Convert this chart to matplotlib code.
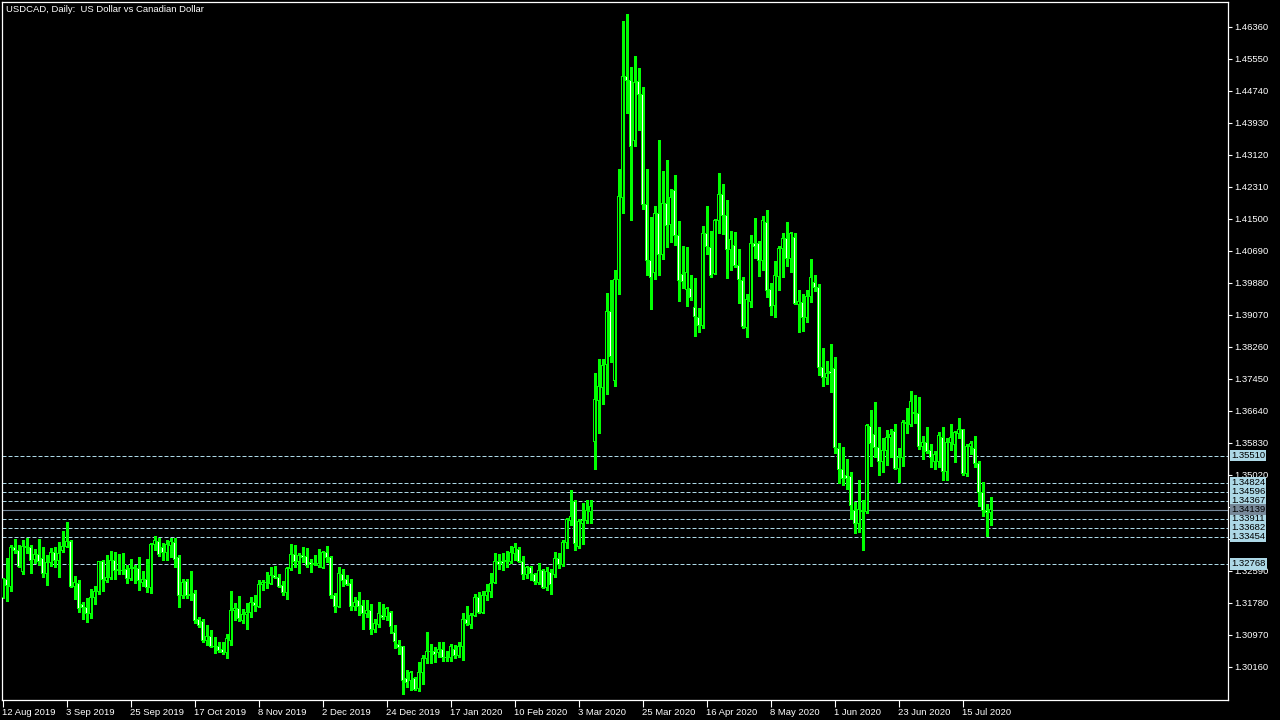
import numpy as np
import matplotlib
matplotlib.use("Agg")
import matplotlib.pyplot as plt
from matplotlib import transforms

plt.rcParams['font.family'] = ['Liberation Sans', 'DejaVu Sans']

# ---------------------------------------------------------------------------
# data (USDCAD daily, 12 Aug 2019 .. Jul 2020)

title = "USDCAD, Daily:  US Dollar vs Canadian Dollar"

date_labels = ["12 Aug 2019", "3 Sep 2019", "25 Sep 2019", "17 Oct 2019",
               "8 Nov 2019", "2 Dec 2019", "24 Dec 2019", "17 Jan 2020",
               "10 Feb 2020", "3 Mar 2020", "25 Mar 2020", "16 Apr 2020",
               "8 May 2020", "1 Jun 2020", "23 Jun 2020", "15 Jul 2020"]

opens = [
    1.3193, 1.3238, 1.3219, 1.3318, 1.3310, 1.3257, 1.3322, 1.3319, 1.3287, 1.3301,
    1.3291, 1.3253, 1.3280, 1.3306, 1.3285, 1.3310, 1.3320, 1.3334, 1.3219, 1.3228,
    1.3175, 1.3167, 1.3151, 1.3191, 1.3207, 1.3284, 1.3236, 1.3242, 1.3285, 1.3263,
    1.3261, 1.3263, 1.3240, 1.3265, 1.3266, 1.3229, 1.3238, 1.3217, 1.3325, 1.3333,
    1.3319, 1.3305, 1.3324, 1.3332, 1.3294, 1.3197, 1.3232, 1.3200, 1.3201, 1.3135,
    1.3132, 1.3084, 1.3094, 1.3069, 1.3069, 1.3059, 1.3052, 1.3084, 1.3158, 1.3163,
    1.3133, 1.3148, 1.3155, 1.3180, 1.3170, 1.3225, 1.3230, 1.3228, 1.3248, 1.3243,
    1.3221, 1.3204, 1.3266, 1.3301, 1.3282, 1.3297, 1.3295, 1.3280, 1.3277, 1.3272,
    1.3268, 1.3306, 1.3294, 1.3198, 1.3170, 1.3251, 1.3238, 1.3228, 1.3170, 1.3183,
    1.3172, 1.3152, 1.3158, 1.3110, 1.3123, 1.3147, 1.3143, 1.3153, 1.3104, 1.3073,
    1.3068, 1.2986, 1.2981, 1.2986, 1.2961, 1.3002, 1.3038, 1.3056, 1.3054, 1.3052,
    1.3059, 1.3040, 1.3041, 1.3059, 1.3044, 1.3067, 1.3135, 1.3123, 1.3147, 1.3192,
    1.3153, 1.3196, 1.3207, 1.3229, 1.3283, 1.3284, 1.3282, 1.3283, 1.3303, 1.3313,
    1.3284, 1.3249, 1.3268, 1.3249, 1.3230, 1.3260, 1.3218, 1.3256, 1.3250, 1.3291,
    1.3275, 1.3330, 1.3388, 1.3434, 1.3322, 1.3380, 1.3386, 1.3410, 1.3586, 1.3691,
    1.3724, 1.3782, 1.3917, 1.3741, 1.3997, 1.4204, 1.4511, 1.4501, 1.4349, 1.4498,
    1.4465, 1.4186, 1.4046, 1.4015, 1.4164, 1.4061, 1.4188, 1.4136, 1.4223, 1.4109,
    1.4009, 1.3971, 1.3973, 1.3925, 1.3901, 1.3880, 1.4114, 1.4078, 1.4012, 1.4147,
    1.4211, 1.4160, 1.4073, 1.4084, 1.4033, 1.3995, 1.3876, 1.3941, 1.4087, 1.4087,
    1.4044, 1.4142, 1.3972, 1.3931, 1.4004, 1.4076, 1.4101, 1.4051, 1.4104, 1.3934,
    1.3938, 1.3901, 1.3953, 1.3989, 1.3977, 1.3775, 1.3749, 1.3763, 1.3772, 1.3570,
    1.3516, 1.3500, 1.3498, 1.3412, 1.3380, 1.3412, 1.3409, 1.3624, 1.3605, 1.3572,
    1.3536, 1.3563, 1.3597, 1.3612, 1.3519, 1.3547, 1.3635, 1.3631, 1.3661, 1.3658,
    1.3574, 1.3585, 1.3563, 1.3536, 1.3536, 1.3597, 1.3510, 1.3584, 1.3580, 1.3608,
    1.3616, 1.3505, 1.3575, 1.3570, 1.3532, 1.3458, 1.3412, 1.3407]

highs = [
    1.3241, 1.3291, 1.3325, 1.3339, 1.3325, 1.3337, 1.3343, 1.3325, 1.3314, 1.3339,
    1.3319, 1.3299, 1.3316, 1.3320, 1.3332, 1.3360, 1.3382, 1.3337, 1.3246, 1.3236,
    1.3181, 1.3190, 1.3213, 1.3221, 1.3284, 1.3287, 1.3299, 1.3310, 1.3308, 1.3302,
    1.3305, 1.3274, 1.3289, 1.3274, 1.3295, 1.3259, 1.3289, 1.3329, 1.3348, 1.3342,
    1.3329, 1.3337, 1.3342, 1.3343, 1.3299, 1.3239, 1.3239, 1.3259, 1.3211, 1.3143,
    1.3137, 1.3122, 1.3110, 1.3093, 1.3080, 1.3080, 1.3099, 1.3208, 1.3179, 1.3196,
    1.3162, 1.3177, 1.3193, 1.3198, 1.3236, 1.3236, 1.3257, 1.3268, 1.3272, 1.3251,
    1.3234, 1.3270, 1.3327, 1.3325, 1.3304, 1.3319, 1.3316, 1.3289, 1.3299, 1.3314,
    1.3310, 1.3322, 1.3297, 1.3202, 1.3268, 1.3263, 1.3249, 1.3238, 1.3194, 1.3205,
    1.3186, 1.3186, 1.3175, 1.3137, 1.3180, 1.3175, 1.3169, 1.3158, 1.3122, 1.3084,
    1.3070, 1.3008, 1.3006, 1.2991, 1.3029, 1.3046, 1.3105, 1.3074, 1.3066, 1.3079,
    1.3079, 1.3057, 1.3074, 1.3072, 1.3079, 1.3153, 1.3170, 1.3153, 1.3201, 1.3207,
    1.3209, 1.3226, 1.3255, 1.3305, 1.3302, 1.3304, 1.3310, 1.3323, 1.3330, 1.3320,
    1.3296, 1.3272, 1.3271, 1.3255, 1.3279, 1.3264, 1.3270, 1.3264, 1.3308, 1.3304,
    1.3337, 1.3392, 1.3463, 1.3439, 1.3391, 1.3431, 1.3439, 1.3438, 1.3761, 1.3796,
    1.3796, 1.3963, 1.3995, 1.4021, 1.4277, 1.4651, 1.4668, 1.4535, 1.4563, 1.4532,
    1.4484, 1.4276, 1.4154, 1.4184, 1.4349, 1.4271, 1.4300, 1.4227, 1.4261, 1.4145,
    1.4082, 1.4080, 1.4009, 1.4000, 1.3925, 1.4132, 1.4183, 1.4120, 1.4149, 1.4267,
    1.4239, 1.4198, 1.4120, 1.4118, 1.4074, 1.4004, 1.3960, 1.4109, 1.4152, 1.4095,
    1.4158, 1.4173, 1.3987, 1.4044, 1.4082, 1.4114, 1.4143, 1.4118, 1.4114, 1.3970,
    1.3959, 1.3970, 1.4049, 1.4008, 1.3985, 1.3823, 1.3790, 1.3834, 1.3800, 1.3584,
    1.3572, 1.3542, 1.3510, 1.3434, 1.3489, 1.3439, 1.3631, 1.3667, 1.3686, 1.3623,
    1.3595, 1.3616, 1.3618, 1.3630, 1.3570, 1.3641, 1.3671, 1.3715, 1.3704, 1.3699,
    1.3601, 1.3623, 1.3580, 1.3563, 1.3612, 1.3623, 1.3595, 1.3631, 1.3614, 1.3645,
    1.3618, 1.3580, 1.3589, 1.3601, 1.3538, 1.3485, 1.3429, 1.3445]

lows = [
    1.3191, 1.3184, 1.3209, 1.3304, 1.3268, 1.3251, 1.3305, 1.3253, 1.3278, 1.3274,
    1.3245, 1.3224, 1.3272, 1.3270, 1.3245, 1.3308, 1.3319, 1.3218, 1.3188, 1.3156,
    1.3137, 1.3131, 1.3139, 1.3175, 1.3201, 1.3208, 1.3232, 1.3238, 1.3239, 1.3251,
    1.3251, 1.3229, 1.3236, 1.3229, 1.3211, 1.3221, 1.3207, 1.3204, 1.3312, 1.3298,
    1.3287, 1.3287, 1.3295, 1.3268, 1.3169, 1.3190, 1.3191, 1.3186, 1.3128, 1.3118,
    1.3080, 1.3072, 1.3067, 1.3052, 1.3055, 1.3049, 1.3039, 1.3072, 1.3135, 1.3133,
    1.3127, 1.3112, 1.3142, 1.3158, 1.3169, 1.3211, 1.3215, 1.3226, 1.3240, 1.3218,
    1.3198, 1.3188, 1.3261, 1.3268, 1.3253, 1.3282, 1.3270, 1.3257, 1.3274, 1.3270,
    1.3267, 1.3281, 1.3191, 1.3156, 1.3167, 1.3221, 1.3224, 1.3160, 1.3160, 1.3148,
    1.3112, 1.3142, 1.3099, 1.3105, 1.3116, 1.3137, 1.3135, 1.3103, 1.3063, 1.3049,
    1.2948, 1.2966, 1.2958, 1.2958, 1.2955, 1.2973, 1.3025, 1.3025, 1.3029, 1.3042,
    1.3032, 1.3030, 1.3032, 1.3038, 1.3041, 1.3034, 1.3122, 1.3115, 1.3145, 1.3152,
    1.3152, 1.3186, 1.3194, 1.3228, 1.3263, 1.3261, 1.3270, 1.3279, 1.3287, 1.3282,
    1.3238, 1.3241, 1.3235, 1.3225, 1.3225, 1.3216, 1.3211, 1.3201, 1.3243, 1.3267,
    1.3272, 1.3318, 1.3376, 1.3313, 1.3318, 1.3328, 1.3380, 1.3380, 1.3516, 1.3608,
    1.3681, 1.3707, 1.3787, 1.3727, 1.3959, 1.4165, 1.4419, 1.4148, 1.4334, 1.4375,
    1.4175, 1.4007, 1.3922, 1.3999, 1.4009, 1.4049, 1.4078, 1.4092, 1.4083, 1.3942,
    1.3976, 1.3930, 1.3944, 1.3855, 1.3863, 1.3875, 1.4061, 1.4004, 1.4011, 1.4114,
    1.4112, 1.4000, 1.4021, 1.4028, 1.3937, 1.3875, 1.3850, 1.3926, 1.4050, 1.4006,
    1.4021, 1.3952, 1.3907, 1.3901, 1.3970, 1.4004, 1.4031, 1.4017, 1.3935, 1.3865,
    1.3867, 1.3890, 1.3941, 1.3968, 1.3755, 1.3726, 1.3732, 1.3713, 1.3557, 1.3481,
    1.3477, 1.3466, 1.3390, 1.3356, 1.3358, 1.3312, 1.3407, 1.3525, 1.3547, 1.3502,
    1.3510, 1.3527, 1.3548, 1.3516, 1.3485, 1.3525, 1.3608, 1.3627, 1.3634, 1.3568,
    1.3542, 1.3558, 1.3521, 1.3516, 1.3521, 1.3489, 1.3489, 1.3565, 1.3536, 1.3595,
    1.3502, 1.3499, 1.3555, 1.3521, 1.3423, 1.3398, 1.3348, 1.3375]

closes = [
    1.3239, 1.3222, 1.3319, 1.3310, 1.3270, 1.3322, 1.3319, 1.3285, 1.3301, 1.3282,
    1.3253, 1.3280, 1.3306, 1.3285, 1.3304, 1.3322, 1.3334, 1.3219, 1.3230, 1.3163,
    1.3166, 1.3151, 1.3192, 1.3208, 1.3284, 1.3238, 1.3243, 1.3285, 1.3260, 1.3260,
    1.3259, 1.3240, 1.3266, 1.3267, 1.3235, 1.3238, 1.3217, 1.3325, 1.3335, 1.3301,
    1.3305, 1.3325, 1.3333, 1.3287, 1.3196, 1.3231, 1.3196, 1.3197, 1.3133, 1.3122,
    1.3084, 1.3094, 1.3069, 1.3067, 1.3058, 1.3052, 1.3087, 1.3160, 1.3163, 1.3139,
    1.3150, 1.3155, 1.3180, 1.3172, 1.3225, 1.3231, 1.3231, 1.3248, 1.3243, 1.3219,
    1.3204, 1.3266, 1.3301, 1.3282, 1.3299, 1.3293, 1.3272, 1.3275, 1.3276, 1.3278,
    1.3306, 1.3293, 1.3196, 1.3170, 1.3253, 1.3236, 1.3226, 1.3170, 1.3180, 1.3170,
    1.3152, 1.3158, 1.3112, 1.3125, 1.3152, 1.3142, 1.3165, 1.3118, 1.3080, 1.3065,
    1.2981, 1.2976, 1.3001, 1.2960, 1.3003, 1.3038, 1.3056, 1.3054, 1.3047, 1.3061,
    1.3039, 1.3041, 1.3069, 1.3044, 1.3069, 1.3135, 1.3125, 1.3147, 1.3192, 1.3153,
    1.3198, 1.3208, 1.3228, 1.3283, 1.3275, 1.3279, 1.3285, 1.3306, 1.3318, 1.3284,
    1.3250, 1.3269, 1.3252, 1.3233, 1.3259, 1.3218, 1.3258, 1.3224, 1.3291, 1.3275,
    1.3330, 1.3390, 1.3396, 1.3328, 1.3383, 1.3386, 1.3412, 1.3423, 1.3693, 1.3725,
    1.3780, 1.3917, 1.3802, 1.3997, 1.4206, 1.4511, 1.4500, 1.4334, 1.4496, 1.4466,
    1.4186, 1.4046, 1.4001, 1.4164, 1.4061, 1.4188, 1.4133, 1.4204, 1.4109, 1.3993,
    1.3991, 1.4014, 1.3952, 1.3904, 1.3880, 1.4114, 1.4080, 1.4006, 1.4147, 1.4211,
    1.4160, 1.4073, 1.4097, 1.4032, 1.3997, 1.3877, 1.3945, 1.4087, 1.4080, 1.4044,
    1.4145, 1.3970, 1.3928, 1.4006, 1.4076, 1.4101, 1.4049, 1.4112, 1.3937, 1.3941,
    1.3901, 1.3955, 1.4002, 1.3977, 1.3775, 1.3749, 1.3759, 1.3759, 1.3572, 1.3516,
    1.3494, 1.3494, 1.3424, 1.3380, 1.3415, 1.3409, 1.3627, 1.3582, 1.3572, 1.3536,
    1.3565, 1.3597, 1.3605, 1.3519, 1.3547, 1.3635, 1.3633, 1.3687, 1.3658, 1.3574,
    1.3585, 1.3561, 1.3547, 1.3555, 1.3603, 1.3510, 1.3585, 1.3597, 1.3609, 1.3616,
    1.3506, 1.3575, 1.3582, 1.3532, 1.3457, 1.3413, 1.3407, 1.3414]

# horizontal levels drawn on the chart, and the bid line
levels = [1.35510, 1.34824, 1.34596, 1.34367, 1.33911, 1.33682, 1.33454, 1.32768]
bid = 1.34139

price_ticks = [1.46360, 1.45550, 1.44740, 1.43930, 1.43120, 1.42310, 1.41500,
               1.40690, 1.39880, 1.39070, 1.38260, 1.37450, 1.36640, 1.35830,
               1.35020, 1.34210, 1.33400, 1.32590, 1.31780, 1.30970, 1.30160]
# these two scale labels sit under the level labels and are not seen
hidden_ticks = [1.34210, 1.33400]

# ---------------------------------------------------------------------------

LIME = '#00ff00'
LEVEL_COL = '#add8e6'
BID_COL = '#778899'

o = np.array(opens)
h = np.array(highs)
l = np.array(lows)
c = np.array(closes)
x = np.arange(len(o))

YMIN, YMAX = 1.29324, 1.46992
PX = (YMAX - YMIN) / 698.0     # price per pixel row

fig = plt.figure(figsize=(12.8, 7.2), dpi=100, facecolor='black')
ax = fig.add_axes([2 / 1280, 20 / 720, 1226 / 1280, 698 / 720])
ax.set_facecolor('black')

# horizontal lines (behind the candles)
for lv in levels:
    ax.axhline(lv, color=LEVEL_COL, lw=0.72, linestyle=(0, (4, 2)), zorder=1)
ax.axhline(bid, color=BID_COL, lw=0.8, zorder=1)

# candles: bull = black body, bear = white body, 1px lime outline
up = c >= o
body_lo = np.minimum(o, c)
body_h = np.abs(c - o)
ax.vlines(x, l, h, color=LIME, lw=0.75, zorder=2, antialiased=False)
# outer lime block, 3 px wide
ax.bar(x, body_h + PX, bottom=body_lo - PX / 2, width=0.75, color=LIME,
       linewidth=0, zorder=3, antialiased=False)
# inner fill, 1 px wide
inner_h = np.maximum(body_h - PX, 0)
ax.bar(x, inner_h, bottom=body_lo + PX / 2, width=0.25,
       color=np.where(up, 'black', 'white'), linewidth=0, zorder=4,
       antialiased=False)

ax.set_xlim(-0.125, 306.375)
ax.set_ylim(YMIN, YMAX)

# axes frame
for s in ax.spines.values():
    s.set_color('white')
    s.set_linewidth(0.9)

# price scale on the right
ax.yaxis.tick_right()
ax.set_yticks(price_ticks)
ax.set_yticklabels(["" if v in hidden_ticks else f"{v:.5f}" for v in price_ticks])
ax.tick_params(axis='y', colors='white', labelsize=6.8, length=3,
               width=0.8, pad=1.5)

# date scale
xt = np.arange(len(date_labels)) * 16
ax.set_xticks(xt)
ax.set_xticklabels(date_labels, ha='left')
ax.tick_params(axis='x', colors='white', labelsize=6.8, length=5,
               width=0.8, pad=1)

# price labels for the levels at the right edge
trans = transforms.blended_transform_factory(ax.transAxes, ax.transData)
for lv in levels:
    ax.text(1.0 + 3 / 1226, lv, f"{lv:.5f}", transform=trans, ha='left',
            va='center', fontsize=6.8, color='black', clip_on=False,
            zorder=6, bbox=dict(boxstyle='square,pad=0.12', fc=LEVEL_COL, ec='none'))
ax.text(1.0 + 3 / 1226, bid, f"{bid:.5f}", transform=trans, ha='left',
        va='center', fontsize=6.8, color='black', clip_on=False,
        zorder=6, bbox=dict(boxstyle='square,pad=0.12', fc=BID_COL, ec='none'))

fig.text(6 / 1280, 1 - 10 / 720, title, color='white', fontsize=6.8,
         ha='left', va='center')

fig.savefig("out.png", dpi=100, facecolor='black')
